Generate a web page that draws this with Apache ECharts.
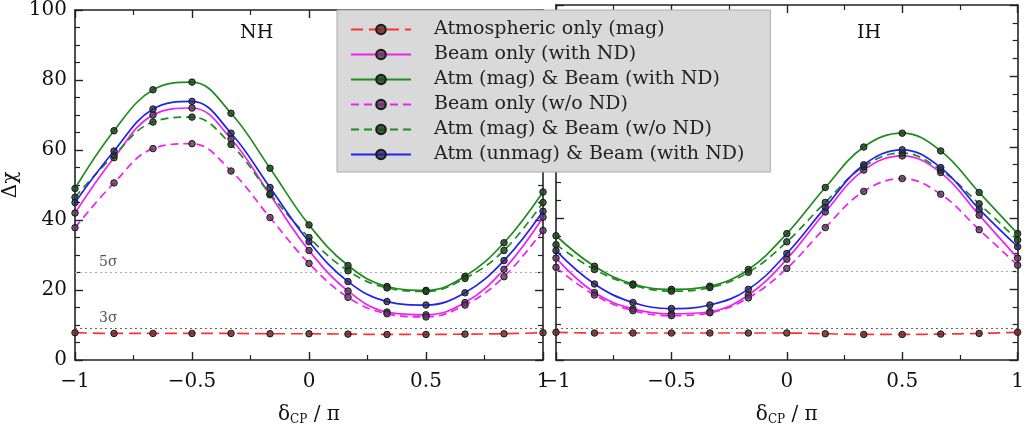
<!DOCTYPE html>
<html>
<head>
<meta charset="utf-8">
<script src="https://cdn.jsdelivr.net/npm/echarts@6/dist/echarts.min.js"></script>
<style>
html,body{margin:0;padding:0;background:#fff;}
#chart{width:1027px;height:431px;}
</style>
</head>
<body>
<div id="chart"></div>
<script>
// delta_CP / pi sample points
const deltaCP = [-1, -0.8333, -0.6667, -0.5, -0.3333, -0.1667, 0, 0.1667, 0.3333, 0.5, 0.6667, 0.8333, 1];

const seriesNames = [
  'Atmospheric only (mag)',
  'Beam only (with ND)',
  'Atm (mag) & Beam (with ND)',
  'Beam only (w/o ND)',
  'Atm (mag) & Beam (w/o ND)',
  'Atm (unmag) & Beam (with ND)'
];

// Normal hierarchy (left panel)
const nhAtmOnly      = [7.8, 7.6, 7.6, 7.6, 7.6, 7.5, 7.5, 7.4, 7.3, 7.3, 7.4, 7.5, 7.8];
const nhBeamND       = [42, 57.8, 70, 72, 63.2, 47.2, 31.3, 19.7, 13.7, 12.9, 16.4, 25.9, 40.8];
const nhAtmBeamND    = [49, 65.5, 77.2, 79.4, 70.5, 54.8, 38.6, 27, 21, 19.9, 23.9, 33.5, 48];
const nhBeamNoND     = [37.8, 50.6, 60.4, 61.8, 54, 40.7, 27.6, 17.9, 13.2, 12.3, 15.7, 23.8, 37];
const nhAtmBeamNoND  = [46.5, 58.5, 68, 69.4, 61.6, 47.5, 35, 25.5, 20.6, 19.6, 23.3, 31.3, 45];
const nhUnmagBeamND  = [45, 59.7, 71.7, 73.9, 64.8, 49.3, 33.8, 22.4, 16.7, 15.7, 19.2, 28.4, 42.5];

// Inverted hierarchy (right panel)
const ihAtmOnly      = [7.8, 7.6, 7.6, 7.6, 7.6, 7.6, 7.6, 7.4, 7.2, 7.2, 7.3, 7.5, 7.8];
const ihBeamND       = [28.7, 19, 14.4, 13, 13.6, 18.3, 28.4, 41.7, 53.5, 57.5, 52.8, 40.8, 28.7];
const ihAtmBeamND    = [35, 26.4, 21.4, 19.9, 20.8, 25.5, 35.6, 48.6, 60, 63.9, 58.9, 47.2, 35.6];
const ihBeamNoND     = [26.1, 18.3, 13.9, 12.5, 13.3, 17.5, 25.8, 37.3, 47.5, 51.1, 46.7, 36.7, 26.7];
const ihAtmBeamNoND  = [32.5, 25.5, 21.1, 19.4, 20.4, 24.7, 33.3, 44.4, 54.5, 58.3, 53.5, 44, 33.8];
const ihUnmagBeamND  = [30.8, 21.4, 16.2, 14.5, 15.5, 19.9, 30, 43, 55, 59.2, 54.2, 42.5, 31.9];

const sigmaLevels = [{label: '5σ', value: 25}, {label: '3σ', value: 9}];
const panelLabels = ['NH', 'IH'];

const FONT = 'DejaVu Serif';
const styles = [
  {color: '#ff3030', type: [12, 6]},
  {color: '#ee22ee', type: 'solid'},
  {color: '#1f8c1f', type: 'solid'},
  {color: '#ee22ee', type: [8, 5]},
  {color: '#1f8c1f', type: [8, 5]},
  {color: '#2222ee', type: 'solid'}
];
const markerFill = ['rgba(110,40,40,0.85)', 'rgba(90,50,90,0.8)', 'rgba(30,70,30,0.85)',
                    'rgba(90,50,90,0.8)', 'rgba(30,70,30,0.85)', 'rgba(40,40,90,0.8)'];

function pairs(ys) { return deltaCP.map((x, i) => [x, ys[i]]); }
function fmtNum(v) { return String(v).replace('-', '\u2212'); }

const panels = [
  [nhAtmOnly, nhBeamND, nhAtmBeamND, nhBeamNoND, nhAtmBeamNoND, nhUnmagBeamND],
  [ihAtmOnly, ihBeamND, ihAtmBeamND, ihBeamNoND, ihAtmBeamNoND, ihUnmagBeamND]
];

const axisLine = {show: true, onZero: false, lineStyle: {color: '#222', width: 1.6}};
const grids = [
  {left: 75, right: 484, top: 5, bottom: 66},
  {left: 556, right: 4, top: 5, bottom: 66}
];

const xAxes = [], yAxes = [], series = [];
grids.forEach((g, gi) => {
  const xBase = {
    type: 'value', gridIndex: gi, min: -1, max: 1, interval: 0.5,
    axisLine: axisLine,
    axisTick: {show: true, inside: true, length: 8, lineStyle: {color: '#222', width: 1.4}},
    minorTick: {show: true, splitNumber: 2, length: 5, lineStyle: {color: '#222', width: 1.2}},
    splitLine: {show: false}
  };
  xAxes.push(Object.assign({}, xBase, {
    position: 'bottom',
    axisLabel: {fontFamily: FONT, fontSize: 20, color: '#111', margin: 12, formatter: fmtNum},
    name: '{a|δ}{b|CP}{a| / π}', nameLocation: 'middle', nameGap: 44,
    nameTextStyle: {rich: {
      a: {fontFamily: FONT, fontSize: 20, color: '#111'},
      b: {fontFamily: FONT, fontSize: 12, color: '#111', padding: [10, 0, 0, 0]}
    }}
  }));
  xAxes.push(Object.assign({}, xBase, {position: 'top', axisLabel: {show: false}}));
  const yBase = {
    type: 'value', gridIndex: gi, min: 0, max: 100, interval: 20,
    axisLine: axisLine,
    axisTick: {show: true, inside: true, length: 8, lineStyle: {color: '#222', width: 1.4}},
    minorTick: {show: true, splitNumber: 4, length: 5, lineStyle: {color: '#222', width: 1.2}},
    splitLine: {show: false}
  };
  yAxes.push(Object.assign({}, yBase, {
    position: 'left',
    axisLabel: {show: gi === 0, fontFamily: FONT, fontSize: 20, color: '#111', margin: 8},
    name: gi === 0 ? 'Δχ' : '', nameLocation: 'middle', nameGap: 54,
    nameTextStyle: {fontFamily: FONT, fontSize: 20, color: '#111'}
  }));
  yAxes.push(Object.assign({}, yBase, {position: 'right', axisLabel: {show: false}}));

  panels[gi].forEach((ys, si) => {
    const s = {
      name: seriesNames[si], type: 'line', xAxisIndex: gi * 2, yAxisIndex: gi * 2,
      data: pairs(ys), smooth: 0.4,
      symbol: 'circle', symbolSize: 6.5,
      lineStyle: {color: styles[si].color, width: 1.7, type: styles[si].type},
      itemStyle: {color: markerFill[si], borderColor: '#1a1a1a', borderWidth: 1},
      z: 3 + si
    };
    if (si === 0) {
      s.markLine = {
        silent: true, symbol: 'none', animation: false,
        data: sigmaLevels.map((lv, li) => ({
          yAxis: lv.value,
          lineStyle: {color: li === 0 ? '#aaa' : '#666', type: [2, 3], width: 1.2},
          label: {show: gi === 0, formatter: lv.label, position: 'insideStartTop',
                  distance: [24, 3], fontFamily: FONT, fontSize: 14, color: '#555'}
        }))
      };
    }
    series.push(s);
  });
});

const chart = echarts.init(document.getElementById('chart'), null, {renderer: 'canvas'});
chart.setOption({
  animation: false,
  backgroundColor: '#fff',
  grid: grids,
  xAxis: xAxes,
  yAxis: yAxes,
  legend: {
    data: seriesNames,
    orient: 'vertical', left: 337, top: 10,
    padding: [10, 26, 8, 13],
    itemWidth: 60, itemHeight: 12, itemGap: 6,
    backgroundColor: '#d9d9d9', borderColor: '#aaa', borderWidth: 1,
    textStyle: {fontFamily: FONT, fontSize: 19, color: '#222', padding: [0, 0, 0, 18]},
    selectedMode: false
  },
  graphic: panelLabels.map((t, i) => ({
    type: 'text', left: i === 0 ? 240 : 857, top: 24,
    style: {text: t, font: '19px "DejaVu Serif"', fill: '#111'}
  })),
  series: series
});
</script>
</body>
</html>
